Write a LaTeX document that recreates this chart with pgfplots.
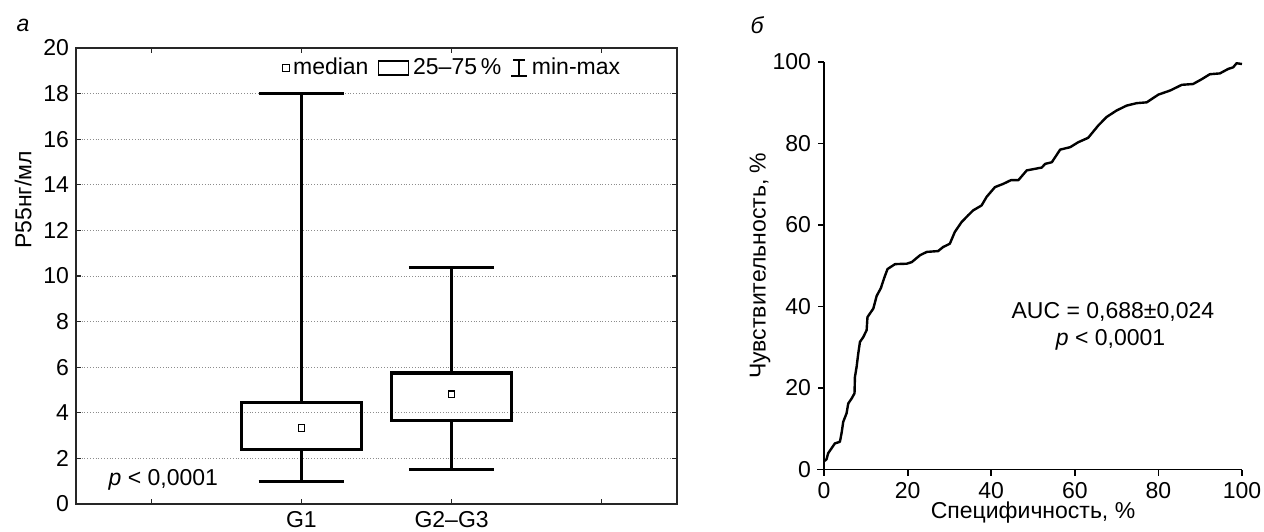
\documentclass[border=0pt]{standalone}
\usepackage{fontspec}
\setmainfont{Liberation Sans}
\usepackage{pgfplots}
\pgfplotsset{compat=1.18}
\usepgfplotslibrary{statistics}

\begin{document}
\begin{tikzpicture}[font=\fontsize{11.5}{13.8}\selectfont]
\path[use as bounding box] (0,0) rectangle (632pt,265.5pt);
\node[font=\fontsize{11.5}{13.8}\selectfont\itshape] at (11.5pt,253pt) {а};
\node[font=\fontsize{11.5}{13.8}\selectfont\itshape] at (378.5pt,253pt) {б};

% (а) box plot
\begin{axis}[
    at={(38pt,13.5pt)}, anchor=south west,
    scale only axis, width=300.5pt, height=228pt,
    xmin=0, xmax=4, ymin=0, ymax=20,
    xtick={0.5,1.5,2.5,3.5}, xticklabels={,G1,G2--G3,},
    ytick={0,2,...,20},
    tick align=inside, major tick length=2.5pt,
    ymajorgrids, grid style={black!45, densely dotted, line width=0.4pt},
    axis line style={black!85, line width=0.7pt},
    tick style={black!85, line width=0.6pt},
    /pgf/number format/assume math mode=true,
    ylabel={P55нг/мл},
    ylabel style={at={(axis description cs:-0.088,0.667)}, anchor=center},
    legend columns=-1,
    legend style={draw=none, fill=none, at={(0.628,0.956)}, anchor=center,
        /tikz/every even column/.append style={column sep=2.5pt}},
    legend entries={median, 25--75\,\%, min-max},
    clip=false,
]
\addlegendimage{only marks, mark=square, mark size=1.6pt, black, line width=0.6pt}
\addlegendimage{legend image code/.code={\draw[black, line width=0.8pt] (0pt,-3.5pt) rectangle (15pt,3.5pt);}}
\addlegendimage{legend image code/.code={\draw[black, line width=0.8pt] (3.5pt,-4pt) -- (3.5pt,4pt) (0.5pt,4pt) -- (6.5pt,4pt) (-0.5pt,-4pt) -- (7.5pt,-4pt);}}

\addplot[black, line width=1.6pt,
    boxplot/draw direction=y,
    boxplot/box extend=0.8, boxplot/whisker extend=0.57,
    boxplot/every median/.style={draw=none},
    boxplot prepared={draw position=1.5, lower whisker=1.0, lower quartile=2.38,
        median=3.33, upper quartile=4.46, upper whisker=18.0}] coordinates {};
\addplot[black, line width=1.6pt,
    boxplot/draw direction=y,
    boxplot/box extend=0.8, boxplot/whisker extend=0.57,
    boxplot/every median/.style={draw=none},
    boxplot prepared={draw position=2.5, lower whisker=1.5, lower quartile=3.66,
        median=4.82, upper quartile=5.75, upper whisker=10.38}] coordinates {};
\addplot[only marks, mark=square, mark size=1.6pt, black, line width=0.6pt]
    coordinates {(1.5,3.33)(2.5,4.82)};

\node[anchor=west] at (axis cs:0.17,1.05) {\textit{p} < 0,0001};
\end{axis}

% (б) ROC curve
\begin{axis}[
    at={(412pt,30.75pt)}, anchor=south west,
    scale only axis, width=209pt, height=203.75pt,
    xmin=0, xmax=100, ymin=0, ymax=100,
    xtick={0,20,...,100}, ytick={0,20,...,100},
    axis x line*=bottom, axis y line*=left,
    axis line style={-, line width=0.9pt},
    x axis line style={-, shorten <=-3.5pt},
    y axis line style={-, shorten <=-1.75pt},
    tick align=outside, major tick length=3pt,
    tick style={black, line width=0.9pt},
    /pgf/number format/assume math mode=true,
    xlabel={Специфичность, \%},
    ylabel={Чувствительность, \%},
    xlabel style={at={(axis description cs:0.5,-0.1067)}, anchor=center},
    ylabel style={at={(axis description cs:-0.153,0.5)}, anchor=center},
    clip=false,
]
\addplot[black, line width=1.2pt, line join=round] coordinates {
(0,2)(0.6,2.5)(1.0,4)(2.6,6.4)(3.8,6.8)(4.2,8.9)(4.6,11.7)(5.4,13.8)(5.8,16.2)
(6.6,17.4)(7.3,18.7)(7.4,22.7)(7.8,25.2)(8.2,28.5)(8.6,31.3)(9.4,32.5)(10.2,34.2)
(10.4,37.4)(11.0,38.3)(11.8,39.5)(12.6,42.6)(13.6,44.5)(14.4,47)(15.2,49.2)
(17.0,50.4)(19.8,50.5)(21.0,50.9)(23.0,52.6)(24.6,53.4)(27.3,53.6)(28.5,54.6)
(30.1,55.4)(31.3,58.3)(32.9,60.7)(34.5,62.4)(35.7,63.6)(37.7,64.8)(38.9,66.9)
(40.9,69.3)(42.9,70.1)(44.7,71)(46.5,71)(48.5,73.4)(52.1,74.1)(52.9,75)(54.5,75.4)
(56.5,78.5)(58.9,79.1)(60.8,80.3)(63.2,81.4)(65.6,84.4)(67.6,86.5)(70.0,88.1)
(72.4,89.3)(74.8,89.9)(77.2,90.1)(80.0,92)(82.8,93)(85.6,94.4)(88.3,94.6)
(90.4,95.8)(92.3,97)(94.7,97.2)(96.7,98.3)(97.9,98.7)(98.7,99.7)(100,99.5)
};
\node[anchor=west] at (axis cs:43.2,38.6) {AUC = 0,688±0,024};
\node[anchor=west] at (axis cs:53.8,31.7) {\textit{p} < 0,0001};
\end{axis}
\end{tikzpicture}
\end{document}
